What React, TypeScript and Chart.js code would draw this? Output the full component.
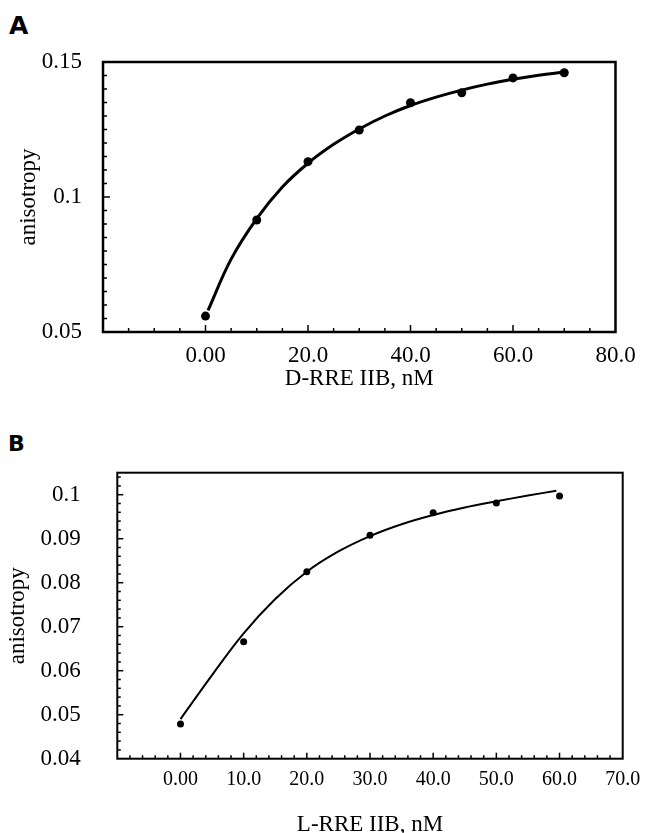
import React, { useEffect, useRef } from 'react';
import { Chart, registerables } from 'chart.js';

Chart.register(...registerables);

// ---------- Panel A data ----------
const concA = [0, 10, 20, 30, 40, 50, 60, 70];
const anisoA = [0.0559, 0.0915, 0.1131, 0.1248, 0.1349, 0.1386, 0.1441, 0.146];
const fitConcA = [0.5, 5, 10, 15, 20, 25, 30, 35, 40, 45, 50, 55, 60, 65, 70];
const fitAnisoA = [0.058, 0.077, 0.092, 0.1037, 0.1125, 0.1195, 0.1252, 0.13, 0.1339, 0.137, 0.1396, 0.1418, 0.1436, 0.1451, 0.1463];
const xTickValuesA = [0, 20, 40, 60, 80];
const xTickLabelsA = ['0.00', '20.0', '40.0', '60.0', '80.0'];
const yTickValuesA = [0.05, 0.1, 0.15];
const yTickLabelsA = ['0.05', '0.1', '0.15'];

// ---------- Panel B data ----------
const concB = [0, 10, 20, 30, 40, 50, 60];
const anisoB = [0.0479, 0.0666, 0.0825, 0.0908, 0.0959, 0.0981, 0.0997];
const fitConcB = [0, 5, 10, 15, 20, 25, 30, 35, 40, 45, 50, 55, 59.5];
const fitAnisoB = [0.049, 0.059, 0.0685, 0.0763, 0.0825, 0.0871, 0.0906, 0.0933, 0.0954, 0.0971, 0.0985, 0.0998, 0.1009];
const xTickValuesB = [0, 10, 20, 30, 40, 50, 60, 70];
const xTickLabelsB = ['0.00', '10.0', '20.0', '30.0', '40.0', '50.0', '60.0', '70.0'];
const yTickValuesB = [0.04, 0.05, 0.06, 0.07, 0.08, 0.09, 0.1];
const yTickLabelsB = ['0.04', '0.05', '0.06', '0.07', '0.08', '0.09', '0.1'];

const SERIF = '"Liberation Serif", "Times New Roman", serif';

type PanelSpec = {
  px: number[]; py: number[]; fx: number[]; fy: number[];
  xMin: number; xMax: number; yMin: number; yMax: number;
  xTickValues: number[]; xTickLabels: string[];
  yTickValues: number[]; yTickLabels: string[];
  xMinor: number; yMinor: number; xMajor: number; yMajor: number;
  xTitle: string; yTitle: string;
  width: number; height: number;
  padTop: number; padRight: number;
  yAxisWidth: number; xAxisHeight: number;
  yLabelPad: number; yTitlePad: number; xLabelPad: number; xTitlePad: number;
  yTickFont: number; xTickFont: number; titleFont: number;
  lineWidth: number; pointRadius: number; frameWidth: number;
  majorLen: number; minorLen: number;
};

const frameTicks = {
  id: 'frameTicks',
  afterDatasetsDraw(chart: any, _args: any, opts: any) {
    const { ctx, chartArea } = chart;
    const { left, right, top, bottom } = chartArea;
    const x = chart.scales.x;
    const y = chart.scales.y;
    ctx.save();
    ctx.strokeStyle = '#000';
    ctx.lineWidth = opts.frameWidth;
    ctx.strokeRect(left, top, right - left, bottom - top);
    ctx.lineWidth = 1.5;
    const isMajor = (v: number, step: number) => Math.abs(v / step - Math.round(v / step)) < 1e-6;
    const nx = Math.round((x.max - x.min) / opts.xMinor);
    for (let i = 1; i < nx; i++) {
      const v = x.min + i * opts.xMinor;
      const p = x.getPixelForValue(v);
      const len = isMajor(v, opts.xMajor) ? opts.majorLen : opts.minorLen;
      ctx.beginPath();
      ctx.moveTo(p, bottom);
      ctx.lineTo(p, bottom - len);
      ctx.stroke();
    }
    const ny = Math.floor((y.max - y.min) / opts.yMinor + 1e-6);
    for (let i = 1; i <= ny; i++) {
      const v = y.min + i * opts.yMinor;
      if (v >= y.max - 1e-9) continue;
      const p = y.getPixelForValue(v);
      const len = isMajor(v, opts.yMajor) ? opts.majorLen : opts.minorLen;
      ctx.beginPath();
      ctx.moveTo(left, p);
      ctx.lineTo(left + len, p);
      ctx.stroke();
    }
    ctx.restore();
  },
};

function labelFor(values: number[], labels: string[]) {
  return (v: any) => {
    const i = values.findIndex((t) => Math.abs(t - Number(v)) < 1e-6);
    return i >= 0 ? labels[i] : '';
  };
}

function ChartPanel({ spec, top }: { spec: PanelSpec; top: number }) {
  const ref = useRef<HTMLCanvasElement | null>(null);
  useEffect(() => {
    if (!ref.current) return;
    const s = spec;
    const chart = new Chart(ref.current, {
      type: 'scatter',
      data: {
        datasets: [
          {
            data: s.px.map((v, i) => ({ x: v, y: s.py[i] })),
            showLine: false,
            pointRadius: s.pointRadius,
            pointBackgroundColor: '#000',
            pointBorderColor: '#000',
            pointBorderWidth: 0,
          },
          {
            data: s.fx.map((v, i) => ({ x: v, y: s.fy[i] })),
            showLine: true,
            pointRadius: 0,
            borderColor: '#000',
            borderWidth: s.lineWidth,
            tension: 0.4,
            fill: false,
          },
        ],
      },
      options: {
        animation: false,
        responsive: false,
        maintainAspectRatio: false,
        layout: { padding: { top: s.padTop, right: s.padRight, left: 0, bottom: 0 } },
        plugins: {
          legend: { display: false },
          tooltip: { enabled: false },
          frameTicks: {
            frameWidth: s.frameWidth, xMinor: s.xMinor, yMinor: s.yMinor,
            xMajor: s.xMajor, yMajor: s.yMajor, majorLen: s.majorLen, minorLen: s.minorLen,
          },
        } as any,
        scales: {
          x: {
            type: 'linear',
            min: s.xMin,
            max: s.xMax,
            grid: { display: false, drawTicks: false },
            border: { display: false },
            afterBuildTicks: (sc: any) => { sc.ticks = s.xTickValues.map((v) => ({ value: v })); },
            afterFit: (sc: any) => { sc.height = s.xAxisHeight; },
            ticks: {
              autoSkip: false,
              maxRotation: 0,
              padding: s.xLabelPad,
              color: '#000',
              font: { family: SERIF, size: s.xTickFont },
              callback: labelFor(s.xTickValues, s.xTickLabels),
            },
            title: {
              display: true,
              text: s.xTitle,
              color: '#000',
              font: { family: SERIF, size: s.titleFont },
              padding: { top: 0, bottom: s.xTitlePad },
            },
          },
          y: {
            type: 'linear',
            min: s.yMin,
            max: s.yMax,
            grid: { display: false, drawTicks: false },
            border: { display: false },
            afterBuildTicks: (sc: any) => { sc.ticks = s.yTickValues.map((v) => ({ value: v })); },
            afterFit: (sc: any) => { sc.width = s.yAxisWidth; },
            ticks: {
              autoSkip: false,
              padding: s.yLabelPad,
              color: '#000',
              font: { family: SERIF, size: s.yTickFont },
              callback: labelFor(s.yTickValues, s.yTickLabels),
            },
            title: {
              display: true,
              text: s.yTitle,
              color: '#000',
              font: { family: SERIF, size: s.titleFont },
              padding: { top: s.yTitlePad, bottom: 0 },
            },
          },
        },
      },
      plugins: [frameTicks as any],
    });
    return () => chart.destroy();
  }, [spec]);
  return (
    <canvas
      ref={ref}
      width={spec.width}
      height={spec.height}
      style={{ position: 'absolute', left: 0, top, width: spec.width, height: spec.height }}
    />
  );
}

const specA: PanelSpec = {
  px: concA, py: anisoA, fx: fitConcA, fy: fitAnisoA,
  xMin: -20, xMax: 80, yMin: 0.05, yMax: 0.15,
  xTickValues: xTickValuesA, xTickLabels: xTickLabelsA,
  yTickValues: yTickValuesA, yTickLabels: yTickLabelsA,
  xMinor: 5, yMinor: 0.005, xMajor: 20, yMajor: 0.05,
  xTitle: 'D-RRE IIB, nM', yTitle: 'anisotropy',
  width: 650, height: 410,
  padTop: 62, padRight: 34.5,
  yAxisWidth: 103, xAxisHeight: 78,
  yLabelPad: 21, yTitlePad: 15, xLabelPad: 10, xTitlePad: 17,
  yTickFont: 23, xTickFont: 23, titleFont: 23,
  lineWidth: 3, pointRadius: 4.5, frameWidth: 2.5,
  majorLen: 7, minorLen: 4,
};

const specB: PanelSpec = {
  px: concB, py: anisoB, fx: fitConcB, fy: fitAnisoB,
  xMin: -10, xMax: 70, yMin: 0.04, yMax: 0.105,
  xTickValues: xTickValuesB, xTickLabels: xTickLabelsB,
  yTickValues: yTickValuesB, yTickLabels: yTickLabelsB,
  xMinor: 2, yMinor: 0.002, xMajor: 10, yMajor: 0.01,
  xTitle: 'L-RRE IIB, nM', yTitle: 'anisotropy',
  width: 650, height: 430,
  padTop: 57.7, padRight: 27.3,
  yAxisWidth: 117.3, xAxisHeight: 86.3,
  yLabelPad: 36.6, yTitlePad: 4, xLabelPad: 9, xTitlePad: 6,
  yTickFont: 23, xTickFont: 20, titleFont: 23,
  lineWidth: 2, pointRadius: 3.5, frameWidth: 2,
  majorLen: 6, minorLen: 3.5,
};

export default function App() {
  const letter: React.CSSProperties = {
    position: 'absolute',
    fontFamily: '"DejaVu Sans", "Liberation Sans", Arial, sans-serif',
    fontWeight: 'bold',
    color: '#000',
    lineHeight: 1,
    margin: 0,
  };
  return (
    <div style={{ position: 'fixed', left: 0, top: 0, width: 650, height: 833, overflow: 'hidden', background: '#fff' }}>
      <div style={{ ...letter, left: 9, top: 13, fontSize: 25 }}>A</div>
      <ChartPanel spec={specA} top={0} />
      <div style={{ ...letter, left: 8, top: 433, fontSize: 22 }}>B</div>
      <ChartPanel spec={specB} top={415} />
    </div>
  );
}
